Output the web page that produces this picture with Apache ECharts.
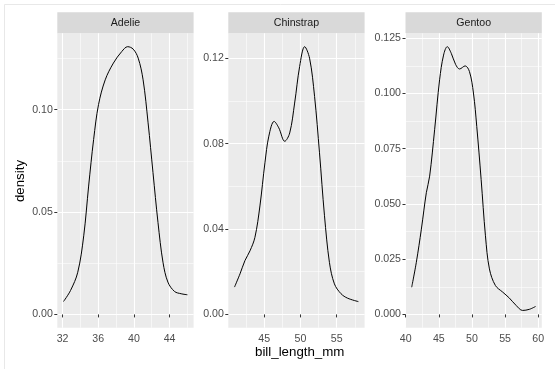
<!DOCTYPE html>
<html>
<head>
<meta charset="utf-8">
<script src="https://cdn.jsdelivr.net/npm/echarts@6/dist/echarts.min.js"></script>
<style>
  html, body { margin: 0; padding: 0; background: #ffffff; }
  #chart { width: 555px; height: 369px; }
</style>
</head>
<body>
<div id="chart"></div>
<script>
// ---- data ----
const facets = ['Adelie', 'Chinstrap', 'Gentoo'];

const adelieX = [32.1, 32.89, 33.7, 34.37, 34.92, 35.48, 36.03, 36.78, 37.7, 38.63, 39.3, 39.92, 40.48, 41.03, 41.59, 42.14, 42.7, 43.26, 43.81, 44.56, 45.3, 46.0];
const adelieY = [0.0063, 0.0117, 0.0206, 0.0384, 0.0627, 0.0855, 0.1025, 0.1146, 0.1228, 0.1284, 0.1308, 0.1296, 0.1252, 0.1146, 0.0936, 0.0693, 0.0449, 0.0255, 0.0158, 0.0112, 0.0101, 0.0096];

const chinstrapX = [40.9, 41.66, 42.34, 43.04, 43.72, 44.41, 45.1, 45.64, 46.37, 47.01, 47.83, 48.52, 49.2, 49.89, 50.58, 51.26, 51.95, 52.63, 53.32, 54.0, 54.69, 55.6, 56.51, 58.0];
const chinstrapY = [0.0128, 0.0190, 0.0252, 0.0298, 0.0361, 0.0508, 0.0710, 0.0835, 0.0904, 0.0874, 0.0811, 0.0850, 0.0990, 0.1161, 0.1254, 0.1200, 0.1021, 0.0757, 0.0462, 0.0244, 0.0143, 0.0097, 0.0076, 0.0060];

const gentooX = [40.9, 41.6, 42.36, 43.11, 43.61, 44.36, 45.11, 45.71, 46.27, 46.87, 47.52, 48.12, 48.97, 49.62, 50.22, 50.72, 51.38, 52.03, 52.63, 53.53, 54.63, 55.64, 56.65, 57.64, 58.65, 59.6];
const gentooY = [0.0123, 0.0236, 0.0386, 0.0551, 0.0626, 0.0836, 0.1062, 0.1174, 0.1212, 0.1182, 0.1132, 0.1111, 0.1125, 0.1099, 0.1002, 0.0851, 0.0611, 0.0356, 0.0206, 0.0131, 0.0101, 0.0074, 0.0041, 0.0018, 0.0023, 0.0036];

// tick labels
const adelieXTicks = [32, 36, 40, 44];
const adelieXMinor = [34, 38, 42, 46];
const adelieYTicks = [0, 0.05, 0.10];
const adelieYMinor = [0.025, 0.075, 0.125];

const chinstrapXTicks = [45, 50, 55];
const chinstrapXMinor = [42.5, 47.5, 52.5, 57.5];
const chinstrapYTicks = [0, 0.04, 0.08, 0.12];
const chinstrapYMinor = [0.02, 0.06, 0.10];

const gentooXTicks = [40, 45, 50, 55, 60];
const gentooXMinor = [42.5, 47.5, 52.5, 57.5];
const gentooYTicks = [0, 0.025, 0.05, 0.075, 0.10, 0.125];
const gentooYMinor = [0.0125, 0.0375, 0.0625, 0.0875, 0.1125];

const yDecimals = [2, 2, 3];

// ---- build ----
const FONT = '"Liberation Sans", Arial, Helvetica, sans-serif';
const panels = [
  { x: adelieX, y: adelieY, xt: adelieXTicks, xm: adelieXMinor, yt: adelieYTicks, ym: adelieYMinor },
  { x: chinstrapX, y: chinstrapY, xt: chinstrapXTicks, xm: chinstrapXMinor, yt: chinstrapYTicks, ym: chinstrapYMinor },
  { x: gentooX, y: gentooY, xt: gentooXTicks, xm: gentooXMinor, yt: gentooYTicks, ym: gentooYMinor }
];
const gridLefts = [57.3, 228.3, 405.5];
const gridTop = 33.3, gridHeight = 294.5, gridWidth = 136.3;
const stripTop = 12.3;

function extentOf(arr, includeZero) {
  let lo = Math.min.apply(null, arr), hi = Math.max.apply(null, arr);
  if (includeZero) lo = Math.min(lo, 0);
  const pad = (hi - lo) * 0.05;
  return [lo - pad, hi + pad];
}

const grids = [], xAxes = [], yAxes = [], series = [], graphics = [];

graphics.push({
  type: 'rect', silent: true, z: -10,
  shape: { x: 4.5, y: 4.5, width: 700, height: 500 },
  style: { fill: 'none', stroke: '#e8e8e8', lineWidth: 1 }
});

panels.forEach((p, i) => {
  grids.push({ left: gridLefts[i], top: gridTop, width: gridWidth, height: gridHeight,
    show: true, backgroundColor: '#EBEBEB', borderWidth: 0, containLabel: false });
  const xe = extentOf(p.x, false);
  const ye = extentOf(p.y, true);

  // minor x axis (grid lines only)
  xAxes.push({
    type: 'value', gridIndex: i, position: 'top', min: xe[0], max: xe[1],
    axisLine: { show: false }, axisLabel: { show: false },
    axisTick: { show: false, customValues: p.xm },
    splitLine: { show: true, lineStyle: { color: '#ffffff', width: 0.55 } }
  });
  // major x axis
  xAxes.push({
    type: 'value', gridIndex: i, position: 'bottom', min: xe[0], max: xe[1],
    axisLine: { show: false },
    axisTick: { show: true, length: 3, customValues: p.xt, lineStyle: { color: '#333333', width: 1 } },
    axisLabel: { show: true, customValues: p.xt, color: '#4D4D4D', fontSize: 10.6, fontFamily: FONT, margin: 5.5,
      formatter: v => String(v) },
    splitLine: { show: true, lineStyle: { color: '#ffffff', width: 1.1 } }
  });
  // minor y axis
  yAxes.push({
    type: 'value', gridIndex: i, position: 'right', min: ye[0], max: ye[1],
    axisLine: { show: false }, axisLabel: { show: false },
    axisTick: { show: false, customValues: p.ym },
    splitLine: { show: true, lineStyle: { color: '#ffffff', width: 0.55 } }
  });
  // major y axis
  const dec = yDecimals[i];
  yAxes.push({
    type: 'value', gridIndex: i, position: 'left', min: ye[0], max: ye[1],
    axisLine: { show: false },
    axisTick: { show: true, length: 3, customValues: p.yt, lineStyle: { color: '#333333', width: 1 } },
    axisLabel: { show: true, customValues: p.yt, color: '#4D4D4D', fontSize: 10.6, fontFamily: FONT, margin: 4.5,
      formatter: v => Number(v).toFixed(dec) },
    splitLine: { show: true, lineStyle: { color: '#ffffff', width: 1.1 } }
  });

  series.push({
    type: 'line', name: facets[i],
    xAxisIndex: 2 * i + 1, yAxisIndex: 2 * i + 1,
    data: p.x.map((v, k) => [v, p.y[k]]),
    smooth: 0.35, showSymbol: false, symbol: 'none',
    lineStyle: { color: '#000000', width: 1 },
    z: 5, silent: true
  });

  // facet strip
  graphics.push({
    type: 'rect', silent: true,
    shape: { x: gridLefts[i], y: stripTop, width: gridWidth, height: gridTop - stripTop },
    style: { fill: '#D9D9D9', stroke: 'none' }
  });
  graphics.push({
    type: 'text', silent: true, x: gridLefts[i] + gridWidth / 2, y: (stripTop + gridTop) / 2,
    style: { text: facets[i], fill: '#1A1A1A', font: '10.6px ' + FONT,
      textAlign: 'center', align: 'center', textVerticalAlign: 'middle', verticalAlign: 'middle' }
  });
});

// axis titles
graphics.push({
  type: 'text', silent: true, x: 299.7, y: 352.5,
  style: { text: 'bill_length_mm', fill: '#000000', font: '13.3px ' + FONT,
    textAlign: 'center', align: 'center', textVerticalAlign: 'middle', verticalAlign: 'middle' }
});
graphics.push({
  type: 'text', silent: true, x: 20, y: 181, rotation: Math.PI / 2,
  style: { text: 'density', fill: '#000000', font: '13.3px ' + FONT,
    textAlign: 'center', align: 'center', textVerticalAlign: 'middle', verticalAlign: 'middle' }
});

const chart = echarts.init(document.getElementById('chart'), null, { renderer: 'canvas' });
chart.setOption({
  animation: false,
  backgroundColor: '#ffffff',
  grid: grids,
  xAxis: xAxes,
  yAxis: yAxes,
  series: series,
  graphic: graphics
});
</script>
</body>
</html>
